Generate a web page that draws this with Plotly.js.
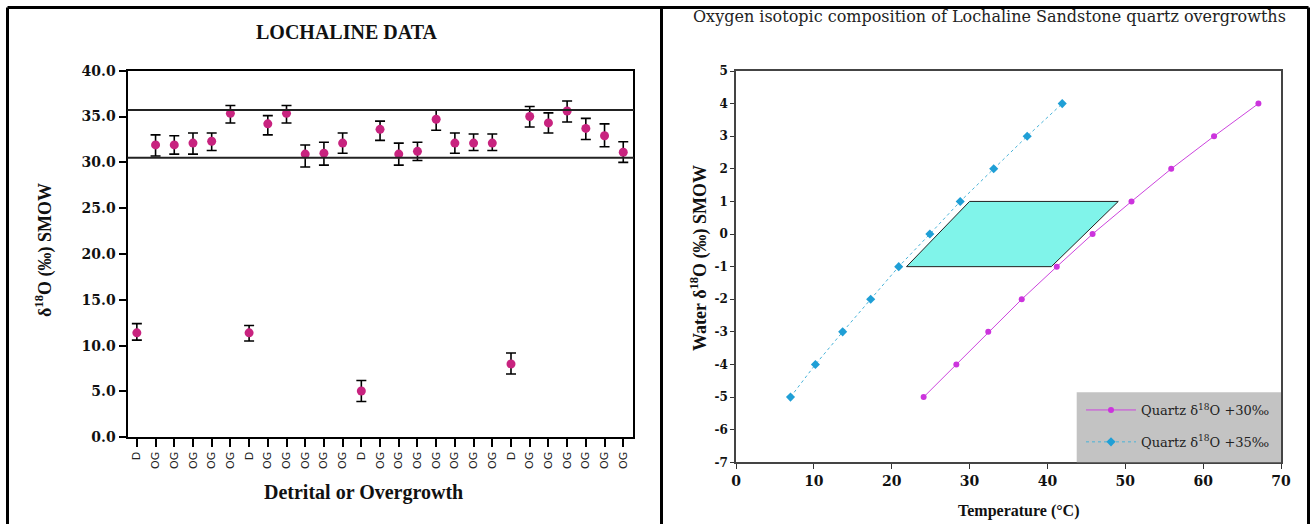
<!DOCTYPE html>
<html>
<head>
<meta charset="utf-8">
<script src="https://cdn.plot.ly/plotly-3.0.1.min.js"></script>
<style>
html,body{margin:0;padding:0;background:#fff;}
#chart{width:1314px;height:524px;}
</style>
</head>
<body>
<div id="chart"></div>
<script>
// ---------- Left chart data (LOCHALINE DATA) ----------
const sampleTypes = ['D','OG','OG','OG','OG','OG','D','OG','OG','OG','OG','OG','D','OG','OG','OG','OG','OG','OG','OG','D','OG','OG','OG','OG','OG','OG'];
const d18OValues = [11.4,31.9,31.9,32.1,32.3,35.35,11.4,34.2,35.35,30.9,31.0,32.1,5.05,33.6,30.9,31.2,34.7,32.1,32.1,32.1,8.0,35.0,34.3,35.6,33.7,32.9,31.1];
const errPlus  = [1.0,1.1,1.0,1.1,0.9,0.85,0.8,0.9,0.85,1.0,1.2,1.1,1.15,0.9,1.2,1.0,1.0,1.1,1.0,1.0,1.2,1.1,1.1,1.1,1.1,1.3,1.15];
const errMinus = [0.8,1.2,1.0,1.2,1.0,1.05,0.9,1.2,1.05,1.4,1.3,1.1,1.15,1.2,1.2,1.0,1.2,1.1,0.8,0.8,1.1,1.15,1.1,1.2,1.2,1.2,1.1];
const rangeLines = [35.7, 30.5];
const leftYTicks = [0,5,10,15,20,25,30,35,40];

// ---------- Right chart data ----------
const waterD18O = [-5,-4,-3,-2,-1,0,1,2,3,4];
const tempQuartz30 = [24.1,28.3,32.4,36.7,41.2,45.8,50.8,55.9,61.4,67.1];
const tempQuartz35 = [7.0,10.2,13.7,17.3,20.9,24.9,28.8,33.1,37.4,41.9];
const boxTemp = [21.9,30.0,49.1,40.5,21.9];
const boxWater = [-1,1,1,-1,-1];
const rightXTicks = [0,10,20,30,40,50,60,70];
const rightXTickLabels = ['0','10','20','30','40','50','60','70'];
const rightYTicks = [-7,-6,-5,-4,-3,-2,-1,0,1,2,3,4,5];
const rightYTickLabels = ['-7','-6','-5','-4','-3','-2','-1','0','1','2','3','4','5'];

const W = 1314, H = 524;
const px = v => v / W;
const py = v => 1 - v / H;

const sampleIndex = sampleTypes.map((_, i) => i);

const traces = [
  {
    type: 'scatter', mode: 'markers', xaxis: 'x', yaxis: 'y',
    x: sampleIndex, y: d18OValues,
    marker: {color: '#c8237f', size: 9},
    error_y: {type: 'data', symmetric: false, array: errPlus, arrayminus: errMinus,
              color: '#000', thickness: 1.6, width: 5},
    showlegend: false, hoverinfo: 'x+y'
  },
  {
    type: 'scatter', mode: 'lines', xaxis: 'x2', yaxis: 'y2',
    x: boxTemp, y: boxWater, fill: 'toself', fillcolor: '#80f4ea',
    line: {color: '#222', width: 1}, showlegend: false, hoverinfo: 'skip'
  },
  {
    type: 'scatter', mode: 'lines+markers', xaxis: 'x2', yaxis: 'y2',
    x: tempQuartz30, y: waterD18O,
    name: 'Quartz δ<sup>18</sup>O +30‰',
    line: {color: '#cc44dd', width: 1},
    marker: {color: '#cc33dd', size: 6, symbol: 'circle'},
    legendgroup: 'a'
  },
  {
    type: 'scatter', mode: 'lines+markers', xaxis: 'x2', yaxis: 'y2',
    x: tempQuartz35, y: waterD18O,
    name: 'Quartz δ<sup>18</sup>O +35‰',
    line: {color: '#4ab3d8', width: 1, dash: 'dot'},
    marker: {color: '#1f9fd6', size: 7, symbol: 'diamond'},
    legendgroup: 'b'
  }
];

const layout = {
  width: W, height: H,
  margin: {l: 0, r: 0, t: 0, b: 0},
  paper_bgcolor: '#fff', plot_bgcolor: 'rgba(0,0,0,0)',
  showlegend: true,
  legend: {
    x: px(1081), xanchor: 'left', y: py(395), yanchor: 'top',
    bgcolor: 'rgba(0,0,0,0)', borderwidth: 0,
    font: {family: 'DejaVu Serif', size: 13, color: '#222'},
    traceorder: 'grouped', tracegroupgap: 12, itemwidth: 50
  },
  xaxis: {
    domain: [px(127.5), px(632.6)], anchor: 'y', range: [-0.5, 26.5],
    tickmode: 'array', tickvals: sampleIndex, ticktext: sampleTypes,
    tickangle: -90, ticks: 'outside', ticklen: 8, tickwidth: 1.5, tickcolor: '#000',
    showline: true, linewidth: 2, linecolor: '#000', mirror: true,
    showgrid: false, zeroline: false,
    tickfont: {family: 'DejaVu Sans', size: 11, color: '#222'}
  },
  yaxis: {
    domain: [py(437.3), py(70.7)], anchor: 'x', range: [0, 40],
    tickmode: 'array', tickvals: leftYTicks, tickformat: '.1f',
    ticks: 'outside', ticklen: 7, tickwidth: 1.5, tickcolor: '#000',
    showline: true, linewidth: 2, linecolor: '#000', mirror: true,
    showgrid: false, zeroline: false,
    tickfont: {family: 'DejaVu Serif', weight: 'bold', size: 14, color: '#111'}
  },
  xaxis2: {
    domain: [px(736), px(1281)], anchor: 'y2', range: [0, 70],
    tickmode: 'array', tickvals: rightXTicks, ticktext: rightXTickLabels,
    ticks: 'outside', ticklen: 5, tickwidth: 1, tickcolor: '#333',
    showline: true, linewidth: 1.5, linecolor: '#444', mirror: true,
    showgrid: false, zeroline: false,
    tickfont: {family: 'DejaVu Serif', weight: 'bold', size: 14, color: '#111'}
  },
  yaxis2: {
    domain: [py(462.3), py(71)], anchor: 'x2', range: [-7, 5],
    tickmode: 'array', tickvals: rightYTicks, ticktext: rightYTickLabels,
    ticks: 'outside', ticklen: 4, tickwidth: 1, tickcolor: '#333',
    showline: true, linewidth: 1.5, linecolor: '#444', mirror: true,
    showgrid: false, zeroline: false,
    tickfont: {family: 'DejaVu Serif', weight: 'bold', size: 12, color: '#111'}
  },
  shapes: [
    // panel borders
    {type: 'line', xref: 'paper', yref: 'paper', x0: px(7.5), x1: px(1308.5), y0: py(7.5), y1: py(7.5), line: {color: '#000', width: 3}},
    {type: 'line', xref: 'paper', yref: 'paper', x0: px(7.5), x1: px(7.5), y0: py(7.5), y1: 0, line: {color: '#000', width: 3}},
    {type: 'line', xref: 'paper', yref: 'paper', x0: px(661.5), x1: px(661.5), y0: py(7.5), y1: 0, line: {color: '#000', width: 3}},
    {type: 'line', xref: 'paper', yref: 'paper', x0: px(1308.5), x1: px(1308.5), y0: py(7.5), y1: 0, line: {color: '#000', width: 3}},
    // reference lines in left chart
    ...rangeLines.map(v => ({type: 'line', xref: 'paper', yref: 'y', x0: px(127.5), x1: px(634), y0: v, y1: v, line: {color: '#222', width: 2}})),
    // grey legend box
    {type: 'rect', xref: 'paper', yref: 'paper', x0: px(1076.7), x1: px(1281), y0: py(462.3), y1: py(392.3), fillcolor: '#c3c3c3', line: {width: 0}, layer: 'above'}
  ],
  annotations: [
    {text: 'LOCHALINE DATA', xref: 'paper', yref: 'paper', x: px(347), y: py(32), xanchor: 'center', yanchor: 'middle', showarrow: false,
     font: {family: 'Liberation Serif', weight: 'bold', size: 20, color: '#111'}},
    {text: 'δ<sup>18</sup>O (‰) SMOW', xref: 'paper', yref: 'paper', x: px(44), y: py(250), xanchor: 'center', yanchor: 'middle', showarrow: false, textangle: -90,
     font: {family: 'Liberation Serif', weight: 'bold', size: 18, color: '#111'}},
    {text: 'Detrital or Overgrowth', xref: 'paper', yref: 'paper', x: px(363), y: py(492), xanchor: 'center', yanchor: 'middle', showarrow: false,
     font: {family: 'Liberation Serif', weight: 'bold', size: 20, color: '#111'}},
    {text: 'Oxygen isotopic composition of Lochaline Sandstone quartz overgrowths', xref: 'paper', yref: 'paper', x: px(989), y: py(16), xanchor: 'center', yanchor: 'middle', showarrow: false,
     font: {family: 'DejaVu Serif', size: 16, color: '#222'}},
    {text: 'Water δ<sup>18</sup>O (‰) SMOW', xref: 'paper', yref: 'paper', x: px(699), y: py(258), xanchor: 'center', yanchor: 'middle', showarrow: false, textangle: -90,
     font: {family: 'Liberation Serif', weight: 'bold', size: 18, color: '#111'}},
    {text: 'Temperature (°C)', xref: 'paper', yref: 'paper', x: px(1018), y: py(511), xanchor: 'center', yanchor: 'middle', showarrow: false,
     font: {family: 'Liberation Serif', weight: 'bold', size: 16, color: '#111'}}
  ]
};

Plotly.newPlot('chart', traces, layout, {displayModeBar: false});
</script>
</body>
</html>
